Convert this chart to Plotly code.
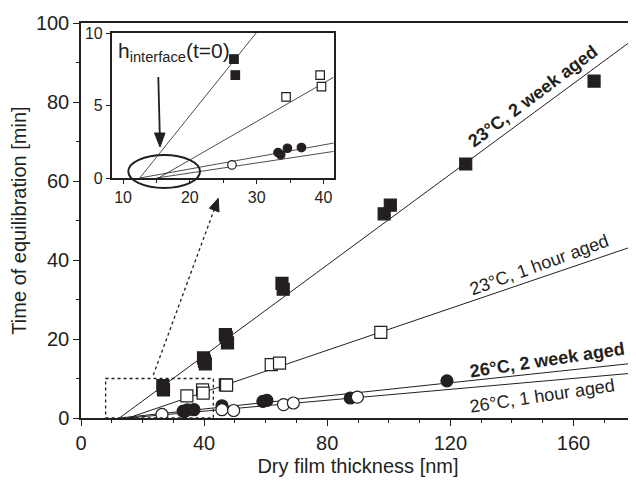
import plotly.graph_objects as go

# ---------------- data ----------------
# 23 °C, 2 week aged  (filled squares)
sq23_2wk_x = [26.6, 26.8, 39.8, 40.4, 40.1, 46.9, 47.2, 47.6, 65.3, 65.7, 98.5, 100.5, 125.0, 166.7]
sq23_2wk_y = [8.2, 7.1, 15.2, 13.7, 14.4, 21.1, 20.4, 19.0, 34.1, 32.6, 51.7, 53.9, 64.3, 85.3]
# 23 °C, 1 hour aged  (open squares)
sq23_1h_x = [34.4, 39.5, 39.7, 46.9, 47.3, 61.8, 64.5, 97.4]
sq23_1h_y = [5.6, 7.1, 6.3, 8.4, 8.3, 13.5, 13.9, 21.7]
# 26 °C, 2 week aged  (filled circles)
ci26_2wk_x = [33.2, 33.6, 34.6, 36.7, 45.8, 59.1, 60.4, 87.5, 118.9]
ci26_2wk_y = [1.75, 1.6, 2.05, 2.1, 3.1, 4.2, 4.45, 5.06, 9.4]
# 26 °C, 1 hour aged  (open circles)
ci26_1h_x = [26.3, 45.8, 49.6, 65.8, 69.0, 89.8]
ci26_1h_y = [0.9, 2.1, 1.9, 3.4, 3.8, 5.3]

# linear fits: (x-intercept, slope)
fit_23_2wk = (12.5, 0.574)
fit_23_1h = (15.3, 0.265)
fit_26_2wk = (12.5, 0.083)
fit_26_1h = (15.0, 0.0691)
x_end = 180

x_ticks_main = [0, 40, 80, 120, 160]
y_ticks_main = [0, 20, 40, 60, 80, 100]
x_ticks_inset = [10, 20, 30, 40]
y_ticks_inset = [0, 5, 10]

FONT = "Liberation Sans, Arial, sans-serif"
INK = "#231f20"

# the page body keeps its default 8px margin, so the figure is drawn 8px in
OFF = 8
W, H = 636 - OFF, 484 - OFF
ML, MT = 81 - OFF, 23 - OFF
MR = W - (635 - OFF)
MB = H - (418 - OFF)
PW, PH = W - ML - MR, H - MT - MB


def px(xp, yp):
    """pixel position on the screenshot -> paper coordinates"""
    xf, yf = xp - OFF, yp - OFF
    return (xf - ML) / PW, (H - MB - yf) / PH


fig = go.Figure()


def fit_line(fit):
    x0, m = fit
    return [x0, x_end], [0, m * (x_end - x0)]


fits = [fit_23_2wk, fit_23_1h, fit_26_2wk, fit_26_1h]
series = [
    (sq23_2wk_x, sq23_2wk_y, "square", INK),
    (sq23_1h_x, sq23_1h_y, "square", "white"),
    (ci26_2wk_x, ci26_2wk_y, "circle", INK),
    (ci26_1h_x, ci26_1h_y, "circle", "white"),
]

for xa, ya, msize, lw in [("x", "y", 12, 1.0), ("x2", "y2", 8.5, 0.8)]:
    for f in fits:
        lx, ly = fit_line(f)
        fig.add_trace(go.Scatter(x=lx, y=ly, mode="lines", xaxis=xa, yaxis=ya,
                                 line=dict(color=INK, width=lw), showlegend=False,
                                 hoverinfo="skip"))
    for sx, sy, sym, fill in series:
        fig.add_trace(go.Scatter(x=sx, y=sy, mode="markers", xaxis=xa, yaxis=ya,
                                 marker=dict(symbol=sym, size=msize, color=fill,
                                             line=dict(color=INK, width=1.2)),
                                 showlegend=False))

axis_common = dict(showline=True, linecolor=INK, linewidth=1.5, mirror=True,
                   showgrid=False, zeroline=False, ticks="outside", tickcolor=INK,
                   tickwidth=1.3, automargin=False)

ix0, iy1 = px(111.7, 33)
ix1, iy0 = px(333.5, 178)

fig.update_layout(
    width=W, height=H,
    margin=dict(l=ML, r=MR, t=MT, b=MB),
    paper_bgcolor="white", plot_bgcolor="white",
    font=dict(family=FONT, color=INK),
    xaxis=dict(range=[0, 180], tickvals=x_ticks_main, ticklen=6,
               minor=dict(dtick=10, ticklen=3, ticks="outside", tickcolor=INK),
               tickfont=dict(size=20),
               title=dict(text="Dry film thickness [nm]", font=dict(size=20), standoff=6),
               **axis_common),
    yaxis=dict(range=[0, 100], tickvals=y_ticks_main, ticklen=6,
               minor=dict(dtick=10, ticklen=3, ticks="outside", tickcolor=INK),
               tickfont=dict(size=20),
               title=dict(text="Time of equilibration [min]", font=dict(size=20), standoff=4),
               **axis_common),
    xaxis2=dict(domain=[ix0, ix1], anchor="y2", range=[8.3, 41.5],
                tickvals=x_ticks_inset, ticklen=4,
                minor=dict(dtick=5, ticklen=3, ticks="outside", tickcolor=INK),
                tickfont=dict(size=16), **axis_common),
    yaxis2=dict(domain=[iy0, iy1], anchor="x2", range=[0, 10],
                tickvals=y_ticks_inset, ticklen=4,
                tickfont=dict(size=16), **axis_common),
)

# curve labels
labels = [
    ("<b>23°C, 2 week aged</b>", 147.0, 81.4, -37),
    ("23°C, 1 hour aged", 148.8, 38.8, -20),
    ("<b>26°C, 2 week aged</b>", 151.3, 14.7, -8.5),
    ("26°C, 1 hour aged", 149.7, 5.5, -8.5),
]
for txt, lx, ly, ang in labels:
    fig.add_annotation(x=lx, y=ly, xref="x", yref="y", text=txt, showarrow=False,
                       textangle=ang, font=dict(size=18, color=INK, family=FONT),
                       xanchor="center", yanchor="middle")

# inset label
hx, hy = px(116.0, 52)
fig.add_annotation(x=hx, y=hy, xref="paper", yref="paper",
                   text="h<sub>interface</sub>(t=0)", showarrow=False,
                   xanchor="left", yanchor="middle",
                   font=dict(size=21, color=INK, family=FONT))

# solid arrow in inset (shaft + head)
a0 = px(158.3, 77)
a1 = px(159.8, 135)
fig.add_shape(type="line", xref="paper", yref="paper", x0=a0[0], y0=a0[1], x1=a1[0], y1=a1[1],
              line=dict(color=INK, width=1.8))
t1, t2, t3 = px(160, 147), px(154.5, 133), px(165, 133)
fig.add_shape(type="path", xref="paper", yref="paper",
              path=f"M{t1[0]},{t1[1]} L{t2[0]},{t2[1]} L{t3[0]},{t3[1]} Z",
              fillcolor=INK, line=dict(color=INK, width=1))

# ellipse in inset
e0 = px(128.3, 188)
e1 = px(200, 155)
fig.add_shape(type="circle", xref="paper", yref="paper",
              x0=e0[0], x1=e1[0], y0=e0[1], y1=e1[1],
              line=dict(color=INK, width=2))

# dotted zoom rectangle and dotted arrow
fig.add_shape(type="rect", xref="x", yref="y", x0=8, x1=43, y0=0, y1=10,
              line=dict(color=INK, width=1.3, dash="dot"))
d0 = px(153.3, 375)
d1 = px(214.2, 209.6)
fig.add_shape(type="line", xref="paper", yref="paper", x0=d0[0], y0=d0[1], x1=d1[0], y1=d1[1],
              line=dict(color=INK, width=1.3, dash="dot"))
h1, h2, h3 = px(218.3, 198.3), px(219.0, 212.0), px(209.4, 208.2)
fig.add_shape(type="path", xref="paper", yref="paper",
              path=f"M{h1[0]},{h1[1]} L{h2[0]},{h2[1]} L{h3[0]},{h3[1]} Z",
              fillcolor=INK, line=dict(color=INK, width=1))

fig.write_html("out.html")
